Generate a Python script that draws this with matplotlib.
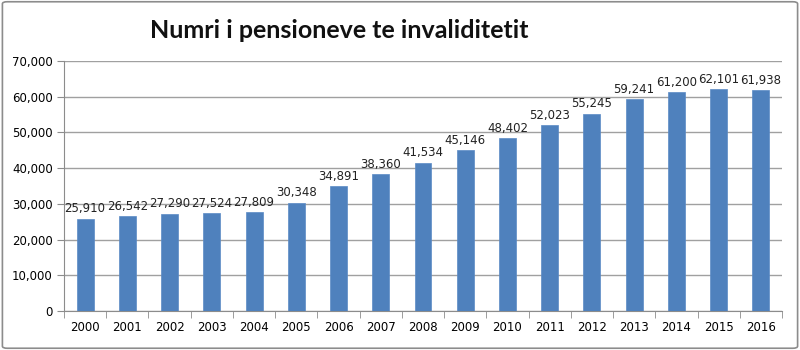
import matplotlib

matplotlib.use("Agg")
import matplotlib.pyplot as plt
from matplotlib.ticker import FuncFormatter, FixedLocator
from matplotlib.patches import FancyBboxPatch

# Data
years = ["2000", "2001", "2002", "2003", "2004", "2005", "2006", "2007", "2008",
         "2009", "2010", "2011", "2012", "2013", "2014", "2015", "2016"]
pensions = [25910, 26542, 27290, 27524, 27809, 30348, 34891, 38360, 41534,
            45146, 48402, 52023, 55245, 59241, 61200, 62101, 61938]
title = "Numri i pensioneve te invaliditetit"

fig = plt.figure(figsize=(8, 3.5), dpi=100, facecolor="white")
ax = fig.add_axes([0.08, 0.111, 0.8975, 0.715])

x = range(len(years))
ax.bar(x, pensions, width=0.4, color="#4F81BD", edgecolor="#5A8AC6", linewidth=0.5, zorder=3)

for xi, v in zip(x, pensions):
    ax.text(xi, v + 900, f"{v:,}", ha="center", va="bottom", fontsize=8.5, color="#222222")

ax.set_xlim(-0.5, len(years) - 0.5)
ax.set_ylim(0, 70000)
ax.set_yticks(range(0, 70001, 10000))
ax.yaxis.set_major_formatter(FuncFormatter(lambda v, p: f"{int(v):,}"))
ax.grid(axis="y", color="#a0a0a0", linewidth=1.0, zorder=0)

# category labels centred, ticks at boundaries
ax.set_xticks(list(x))
ax.set_xticklabels(years, fontsize=8.5)
ax.xaxis.set_minor_locator(FixedLocator([i - 0.5 for i in range(len(years) + 1)]))
ax.tick_params(axis="x", which="major", length=0, pad=7)
ax.tick_params(axis="x", which="minor", length=5, color="#8c8c8c", direction="out")
ax.tick_params(axis="y", length=5, color="#8c8c8c", labelsize=8.5, pad=3)

for s in ["top", "right"]:
    ax.spines[s].set_visible(False)
ax.spines["left"].set_color("#8c8c8c")
ax.spines["bottom"].set_color("#8c8c8c")

fig.text(0.4245, 0.912, title, ha="center", va="center", fontsize=18,
         fontweight="bold", family=["Lato", "DejaVu Sans"], color="#111111")

# outer border
fig.patches.append(FancyBboxPatch((0.003, 0.005), 0.994, 0.99, boxstyle="round,pad=0,rounding_size=0.006",
                                  transform=fig.transFigure, fill=False,
                                  edgecolor="#8c8c8c", linewidth=1.2))

fig.savefig("out.png", dpi=100)
